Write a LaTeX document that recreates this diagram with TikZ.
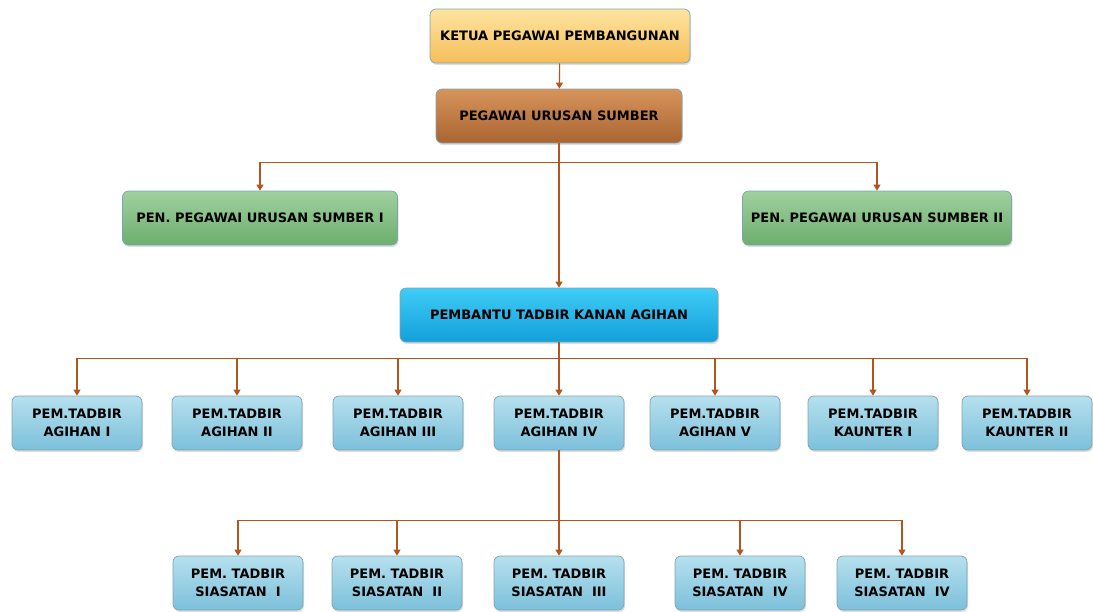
\documentclass[tikz,border=0pt]{standalone}
\usepackage{fontspec}
\setmainfont{DejaVu Sans}
\usetikzlibrary{arrows.meta,shadows}
\definecolor{linkc}{HTML}{B0561E}
\definecolor{edgec}{HTML}{7FA3B3}
\tikzset{
  box/.style={rounded corners=6pt,minimum height=54pt,align=center,draw=edgec,line width=0.7pt,
    font=\bfseries\fontsize{13}{18}\selectfont,
    drop shadow={opacity=0.25,shadow xshift=1pt,shadow yshift=-2pt}},
  ketua/.style={box,top color={rgb,255:red,254;green,228;blue,160},bottom color={rgb,255:red,246;green,190;blue,90}},
  urusan/.style={box,top color={rgb,255:red,214;green,148;blue,92},bottom color={rgb,255:red,170;green,100;blue,48}},
  pen/.style={box,top color={rgb,255:red,160;green,208;blue,160},bottom color={rgb,255:red,109;green,174;blue,109}},
  kanan/.style={box,top color={rgb,255:red,64;green,204;blue,245},bottom color={rgb,255:red,18;green,160;blue,218}},
  staf/.style={box,minimum width=130pt,top color={rgb,255:red,182;green,224;blue,238},bottom color={rgb,255:red,124;green,192;blue,218}},
  link/.style={draw=linkc,line width=1.1pt,-{Triangle[width=7pt,length=6pt]}}
}
\begin{document}
\begin{tikzpicture}[x=1pt,y=-1pt]
\useasboundingbox (0,0) rectangle (1093,611);
% atas
\node[ketua,minimum width=260pt] (kpp) at (560,36) {KETUA PEGAWAI PEMBANGUNAN};
\node[urusan,minimum width=246pt] (pus) at (559,116) {PEGAWAI URUSAN SUMBER};
\node[pen,minimum width=275pt] (pen1) at (260,218) {PEN. PEGAWAI URUSAN SUMBER I};
\node[pen,minimum width=269pt] (pen2) at (877,218) {PEN. PEGAWAI URUSAN SUMBER II};
\node[kanan,minimum width=318pt] (ptka) at (559,315) {PEMBANTU TADBIR KANAN AGIHAN};
% baris agihan
\foreach \n/\x/\t in {ag1/77/AGIHAN I,ag2/237/AGIHAN II,ag3/398/AGIHAN III,ag4/559/AGIHAN IV,
  ag5/715/AGIHAN V,ka1/873/KAUNTER I,ka2/1027/KAUNTER II}
  \node[staf] (\n) at (\x,423) {PEM.TADBIR\\\t};
% baris siasatan
\foreach \n/\x/\t in {si1/238/SIASATAN~~I,si2/397/SIASATAN~~II,si3/559/SIASATAN~~III,
  si4/740/SIASATAN~~IV,si5/902/SIASATAN~~IV}
  \node[staf] (\n) at (\x,583) {PEM. TADBIR\\\t};
% penyambung
\draw[link] (kpp) -- (pus);
\draw[link] (pus) -- (ptka);
\foreach \c in {pen1,pen2} \draw[link] (pus.south) -- ++(0,19) -| (\c.north);
\foreach \c in {ag1,ag2,ag3,ag4,ag5,ka1,ka2} \draw[link] (ptka.south) -- ++(0,16) -| (\c.north);
\foreach \c in {si1,si2,si3,si4,si5} \draw[link] (ag4.south) -- ++(0,70) -| (\c.north);
\end{tikzpicture}
\end{document}
